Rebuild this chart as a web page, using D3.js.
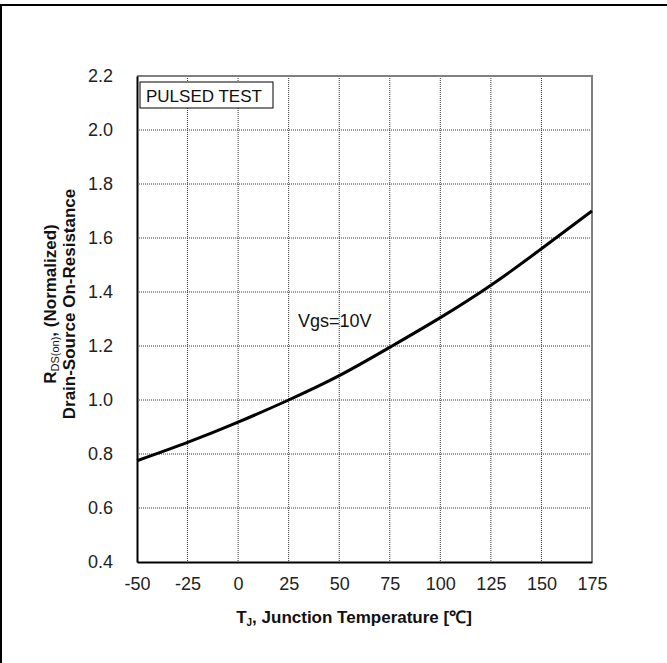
<!DOCTYPE html>
<html>
<head>
<meta charset="utf-8">
<script src="https://cdn.jsdelivr.net/npm/d3@7"></script>
<style>
  body { margin: 0; background: #fff; }
  svg { display: block; font-family: "Liberation Sans", Arial, sans-serif; }
</style>
</head>
<body>
<div id="chart"></div>
<script>
// Normalized RDS(on) vs junction temperature
const temps = [-50, -25, 0, 25, 50, 75, 100, 125, 150, 175];
const rdsNorm = [0.775, 0.843, 0.918, 1.0, 1.09, 1.195, 1.305, 1.425, 1.56, 1.7];
const yTicks = [0.4, 0.6, 0.8, 1.0, 1.2, 1.4, 1.6, 1.8, 2.0, 2.2];
const xTicks = temps;

const W = 667, H = 663;
const margin = { top: 76, right: 75, bottom: 101, left: 137 };
const width = W - margin.left - margin.right;
const height = H - margin.top - margin.bottom;
const font = '"Liberation Sans", Arial, sans-serif';

const svg = d3.select('#chart').append('svg')
  .attr('width', W)
  .attr('height', H);

// outer frame (only top and left edges visible in the picture)
svg.append('line').attr('x1', 0).attr('x2', W).attr('y1', 5).attr('y2', 5)
  .attr('stroke', '#000').attr('stroke-width', 2);
svg.append('line').attr('x1', 1).attr('x2', 1).attr('y1', 4).attr('y2', H)
  .attr('stroke', '#000').attr('stroke-width', 2);

const g = svg.append('g').attr('transform', `translate(${margin.left},${margin.top})`);

const x = d3.scaleLinear().domain([-50, 175]).range([0, width]);
const y = d3.scaleLinear().domain([0.4, 2.2]).range([height, 0]);

// grid
g.append('g')
  .selectAll('line')
  .data(xTicks.slice(1, -1))
  .join('line')
  .attr('x1', d => x(d)).attr('x2', d => x(d))
  .attr('y1', 0).attr('y2', height)
  .attr('stroke', '#333').attr('stroke-width', 1)
  .attr('stroke-dasharray', '1,1');

g.append('g')
  .selectAll('line')
  .data(yTicks.slice(1, -1))
  .join('line')
  .attr('x1', 0).attr('x2', width)
  .attr('y1', d => y(d)).attr('y2', d => y(d))
  .attr('stroke', '#333').attr('stroke-width', 1)
  .attr('stroke-dasharray', '1,1');

// top & right frame (gray)
g.append('path')
  .attr('d', `M0,0H${width}V${height}`)
  .attr('fill', 'none').attr('stroke', '#808080').attr('stroke-width', 2);

// axes
const xAxis = g.append('g')
  .attr('transform', `translate(0,${height})`)
  .call(d3.axisBottom(x).tickValues(xTicks).tickSize(0).tickPadding(15).tickFormat(d => String(d)));
xAxis.select('.domain').attr('stroke', '#000').attr('stroke-width', 2);
xAxis.selectAll('text').attr('font-size', 18).attr('fill', '#222').attr('font-family', font);

const yAxis = g.append('g')
  .call(d3.axisLeft(y).tickValues(yTicks).tickSize(0).tickPadding(24).tickFormat(d3.format('.1f')));
yAxis.select('.domain').attr('stroke', '#000').attr('stroke-width', 2);
yAxis.selectAll('text').attr('font-size', 18).attr('fill', '#222').attr('font-family', font);

// curve
const line = d3.line()
  .x((d, i) => x(temps[i]))
  .y(d => y(d))
  .curve(d3.curveNatural);

g.append('path')
  .datum(rdsNorm)
  .attr('fill', 'none')
  .attr('stroke', '#000')
  .attr('stroke-width', 3)
  .attr('d', line);

// PULSED TEST box
const box = g.append('g').attr('transform', 'translate(3,6)');
box.append('rect')
  .attr('width', 133).attr('height', 26)
  .attr('fill', '#fff').attr('stroke', '#000').attr('stroke-width', 1);
box.append('text')
  .attr('x', 6).attr('y', 19.5)
  .attr('font-size', 17).attr('fill', '#111')
  .text('PULSED TEST');

// Vgs label
g.append('text')
  .attr('x', 161).attr('y', 251)
  .attr('font-size', 18).attr('fill', '#111')
  .text('Vgs=10V');

// x title
const xt = svg.append('text')
  .attr('x', 354)
  .attr('y', 623)
  .attr('text-anchor', 'middle')
  .attr('font-size', 17).attr('font-weight', 'bold').attr('fill', '#111');
xt.append('tspan').text('T');
xt.append('tspan').attr('font-size', 10).attr('dy', 3).text('J');
xt.append('tspan').attr('dy', -3).text(', Junction Temperature [℃]');

// y title (two lines, rotated)
const yt = svg.append('g').attr('transform', `translate(56,304) rotate(-90)`);
const l1 = yt.append('text')
  .attr('x', 0).attr('y', 0)
  .attr('text-anchor', 'middle')
  .attr('font-size', 17).attr('font-weight', 'bold').attr('fill', '#111');
l1.append('tspan').text('R');
l1.append('tspan').attr('font-size', 11).attr('font-weight', 'normal').attr('dy', 3).text('DS(on)');
l1.append('tspan').attr('dy', -3).text(', (Normalized)');
yt.append('text')
  .attr('x', 0).attr('y', 19)
  .attr('text-anchor', 'middle')
  .attr('font-size', 17).attr('font-weight', 'bold').attr('fill', '#111')
  .text('Drain-Source On-Resistance');
</script>
</body>
</html>
